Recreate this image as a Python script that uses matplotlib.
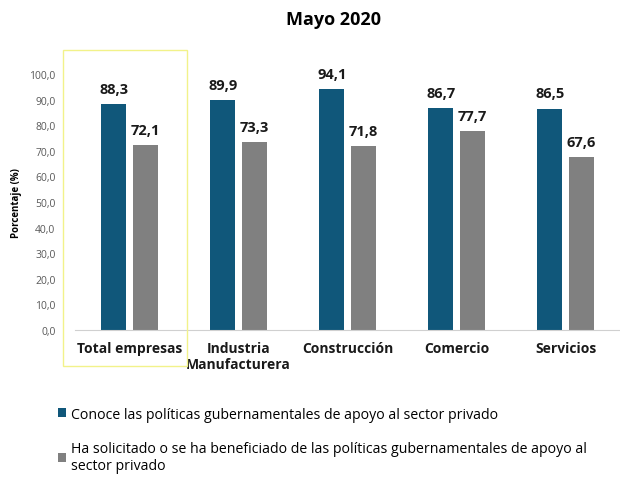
import numpy as np
import matplotlib.pyplot as plt
from matplotlib.patches import Rectangle

categories = ['Total empresas', 'Industria\nManufacturera', 'Construcción', 'Comercio', 'Servicios']
conoce = [88.3, 89.9, 94.1, 86.7, 86.5]
solicitado = [72.1, 73.3, 71.8, 77.7, 67.6]
series_names = ['Conoce las políticas gubernamentales de apoyo al sector privado',
                'Ha solicitado o se ha beneficiado de las políticas gubernamentales de apoyo al\nsector privado']
yticks = np.arange(0, 101, 10)

plt.rcParams['font.family'] = ['Open Sans', 'DejaVu Sans']

blue = '#10577a'
grey = '#808080'

fig = plt.figure(figsize=(6.2, 4.81), dpi=100)
ax = fig.add_axes([75 / 620, 150 / 481, 545 / 620, 256 / 481])

x = np.arange(len(categories))
w = 0.23
b1 = ax.bar(x - 0.145, conoce, w, color=blue, label=series_names[0])
b2 = ax.bar(x + 0.145, solicitado, w, color=grey, label=series_names[1])

# value labels on top of bars
for bars in (b1, b2):
    for r in bars:
        ax.annotate(f'{r.get_height():.1f}'.replace('.', ','),
                    (r.get_x() + r.get_width() / 2, r.get_height()),
                    xytext=(0, 6), textcoords='offset points', ha='center', va='bottom',
                    fontsize=10.5, fontweight='bold', color='#1a1a1a', annotation_clip=False)

ax.set_xlim(-0.5, len(categories) - 0.5)
ax.set_ylim(0, 100)
ax.set_yticks(yticks)
ax.set_yticklabels([f'{v:.1f}'.replace('.', ',') for v in yticks], fontsize=7.5, color='#595959')
ax.set_xticks(x)
ax.set_xticklabels(categories, fontsize=10, fontweight='bold', color='#1a1a1a')
ax.tick_params(axis='both', length=0)
ax.tick_params(axis='x', pad=8)
ax.tick_params(axis='y', pad=14)
for s in ['top', 'right', 'left']:
    ax.spines[s].set_visible(False)
ax.spines['bottom'].set_color('#d0d0d0')
ax.set_ylabel('Porcentaje (%)', fontsize=7, fontweight='bold', labelpad=5)

fig.text(334 / 620, 1 - 20 / 481, 'Mayo 2020', ha='center', va='center', fontsize=13, fontweight='bold')

# yellow highlight box around the first category
fig.patches.append(Rectangle((63 / 620, 114 / 481), 124 / 620, 316 / 481,
                             transform=fig.transFigure, fill=False,
                             edgecolor='#f2f28a', linewidth=1))

leg = fig.legend(handles=[b1, b2], labels=series_names, loc='upper left',
                 bbox_to_anchor=(45 / 620, 1 - 395 / 481), bbox_transform=fig.transFigure,
                 frameon=False, fontsize=10.2, handlelength=0.55, handleheight=0.55,
                 handletextpad=0.4, labelspacing=1.35)

fig.savefig('out.png', dpi=100)
